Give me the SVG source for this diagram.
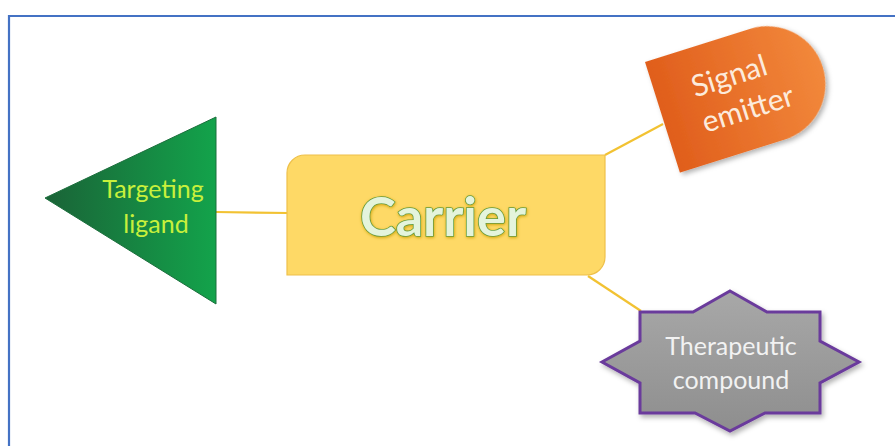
<svg xmlns="http://www.w3.org/2000/svg" width="895" height="446" viewBox="0 0 895 446">
<style>
.conn{stroke:#F2C232;stroke-width:2.2;fill:none}
.lbl{font-family:Lato,"Liberation Sans",sans-serif;text-anchor:middle}
</style>
<defs>
<linearGradient id="gTri" x1="0" y1="0" x2="1" y2="0">
<stop offset="0" stop-color="#1A6337"/><stop offset="1" stop-color="#13A34B"/>
</linearGradient>
<linearGradient id="gOr" x1="0" y1="0" x2="1" y2="0">
<stop offset="0" stop-color="#E05E1C"/><stop offset="1" stop-color="#F2883B"/>
</linearGradient>
<linearGradient id="gStar" x1="0" y1="0" x2="0" y2="1">
<stop offset="0" stop-color="#A8A8A8"/><stop offset="1" stop-color="#8E8E8E"/>
</linearGradient>
<filter id="sh" x="-20%" y="-20%" width="140%" height="140%">
<feDropShadow dx="2" dy="3" stdDeviation="2.5" flood-color="#000" flood-opacity="0.3"/>
</filter>
<filter id="glow" x="-10%" y="-20%" width="120%" height="140%">
<feDropShadow dx="0.5" dy="1" stdDeviation="1.5" flood-color="#C9A000" flood-opacity="0.9"/>
</filter>
</defs>
<rect width="895" height="446" fill="#FFFFFF"/>
<path d="M9,446 V16 H895" fill="none" stroke="#4472C4" stroke-width="2.2"/>
<g id="connectors">
<line class="conn" x1="216" y1="212" x2="288" y2="213"/>
<line class="conn" x1="605" y1="155" x2="663" y2="124"/>
<line class="conn" x1="588" y1="276" x2="641" y2="311"/>
</g>
<g id="carrier">
<path d="M305,155 H605 V257 A18,18 0 0 1 587,275 H287 V173 A18,18 0 0 1 305,155 Z" fill="#FED966" stroke="#EEC04A" stroke-width="1.2"/>
<text class="lbl" x="443" y="236" font-size="54" font-weight="bold" fill="#E4F4DC" stroke="#5E9B3A" stroke-width="1.6" paint-order="stroke" filter="url(#glow)">Carrier</text>
</g>
<g id="targeting-ligand">
<polygon points="45,198 216,117 216,304" fill="url(#gTri)" stroke="#1B6E3C" stroke-width="1"/>
<text class="lbl" x="153" y="198" font-size="25" fill="#C8F03C">Targeting</text>
<text class="lbl" x="156" y="233" font-size="25" fill="#C8F03C">ligand</text>
</g>
<g id="signal-emitter" transform="translate(645,62) rotate(-17.5)">
<path d="M0,0 H110 A58,58 0 0 1 110,116 H0 Z" fill="url(#gOr)" filter="url(#sh)"/>
<text class="lbl" x="76" y="49" font-size="30" fill="#FCEBDC">Signal</text>
<text class="lbl" x="84" y="86" font-size="30" fill="#FCEBDC">emitter</text>
</g>
<g id="therapeutic-compound">
<polygon points="730,291 767,312 820,312 820,341 859,362 820,383 820,413 765,413 730,431 695,413 640,413 640,383 602,362 640,341 640,312 693,312" fill="url(#gStar)" stroke="#6B3A9C" stroke-width="3" stroke-linejoin="miter" filter="url(#sh)"/>
<text class="lbl" x="731" y="355" font-size="25" fill="#F2F2F2">Therapeutic</text>
<text class="lbl" x="731" y="389" font-size="25" fill="#F2F2F2">compound</text>
</g>
</svg>
